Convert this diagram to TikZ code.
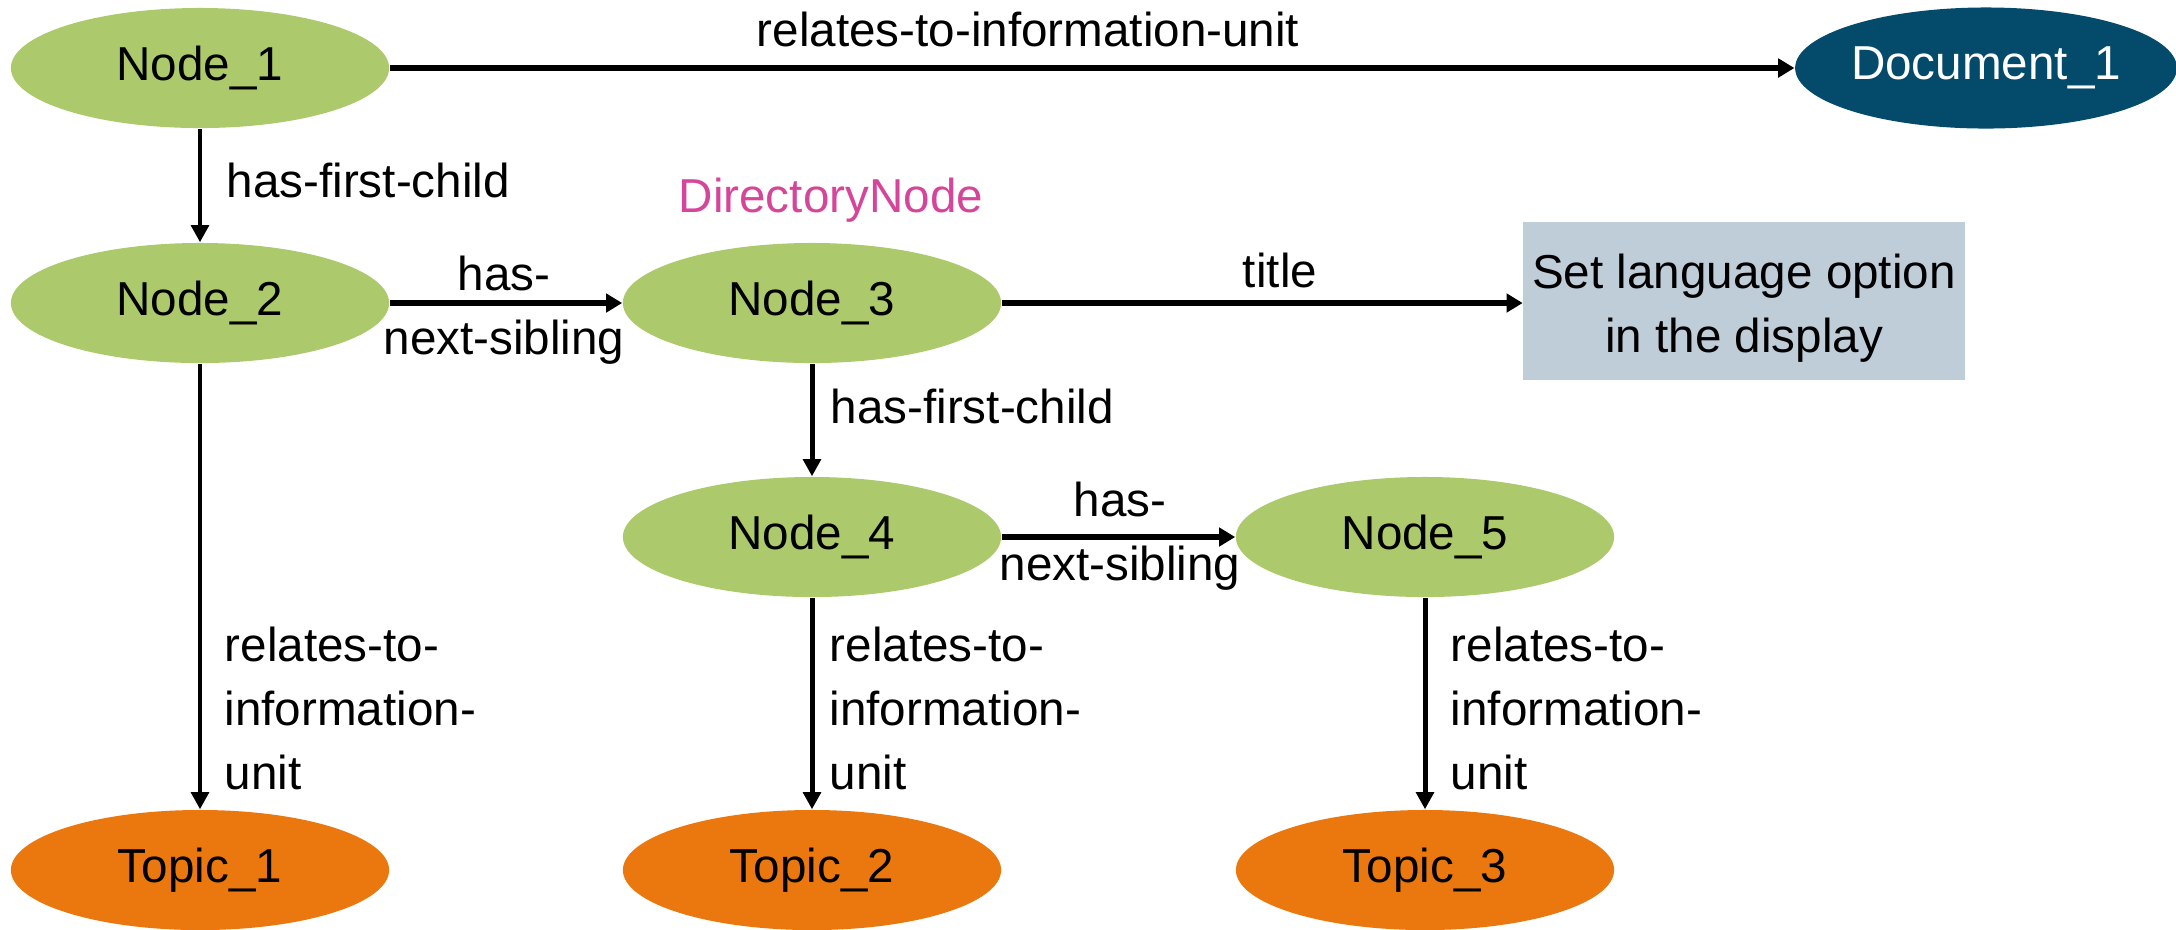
\documentclass[tikz,border=0pt]{standalone}
\usepackage{fontspec}
\setmainfont{Liberation Sans}
\usetikzlibrary{arrows.meta,shapes.geometric}
\definecolor{ngreen}{HTML}{ACC96C}
\definecolor{norange}{HTML}{EA780E}
\definecolor{nnavy}{HTML}{034A6B}
\definecolor{nbox}{HTML}{BFCDD9}
\definecolor{npink}{HTML}{D5469B}
\begin{document}
\begin{tikzpicture}[x=0.01cm, y=-0.01cm,
  every node/.style={font=\fontsize{13.54}{18.2}\selectfont, inner sep=0pt},
  gnode/.style={ellipse, fill=ngreen, minimum width=3.78cm, minimum height=1.2cm},
  tnode/.style={ellipse, fill=norange, minimum width=3.78cm, minimum height=1.2cm},
  dnode/.style={ellipse, fill=nnavy, text=white, minimum width=3.76cm, minimum height=1.21cm},
  infobox/.style={rectangle, fill=nbox, minimum width=4.41cm, minimum height=1.58cm, align=center},
  harrow/.style={-{Triangle[length=4.6pt,width=5.2pt]}, line width=1.7pt},
  varrow/.style={-{Triangle[length=4.9pt,width=5pt]}, line width=1.42pt},
]
\useasboundingbox (0,0) rectangle (2176,929);

\node[gnode] (n1) at (200,68) {Node\_1};
\node[dnode] (doc) at (1986,68) {Document\_1};
\node[gnode] (n2) at (200,303) {Node\_2};
\node[gnode] (n3) at (812,303) {Node\_3};
\node[infobox] (box) at (1744,301) {\rule{0pt}{0.48cm}Set language option\\in the display};
\node[gnode] (n4) at (812,537) {Node\_4};
\node[gnode] (n5) at (1425,537) {Node\_5};
\node[tnode] (t1) at (200,870) {Topic\_1};
\node[tnode] (t2) at (812,870) {Topic\_2};
\node[tnode] (t3) at (1425,870) {Topic\_3};

\draw[harrow] (n1) -- (doc);
\draw[varrow] (n1) -- (n2);
\draw[harrow] (n2) -- (n3);
\draw[harrow] (n3) -- (n3 -| box.west);
\draw[varrow] (n3) -- (n4);
\draw[harrow] (n4) -- (n5);
\draw[varrow] (n2) -- (t1);
\draw[varrow] (n4) -- (t2);
\draw[varrow] (n5) -- (t3);

\node[anchor=base] (lrel) at (1028,46) {relates-to-information-unit};
\node[anchor=base west] (lhfc1) at (226,197) {has-first-child};
\node[anchor=base west, text=npink] (ldir) at (678,212) {DirectoryNode};
\node[anchor=north, align=center] (lns1) at (504,255) {has-\\next-sibling};
\node[anchor=base] (ltitle) at (1280,287) {title};
\node[anchor=base west] (lhfc2) at (830,423) {has-first-child};
\node[anchor=north, align=center] (lns2) at (1120,481) {has-\\next-sibling};
\node[anchor=north west, align=left] (lrel1) at (224,626) {relates-to-\\information-\\unit};
\node[anchor=north west, align=left] (lrel2) at (829,626) {relates-to-\\information-\\unit};
\node[anchor=north west, align=left] (lrel3) at (1450,626) {relates-to-\\information-\\unit};
\end{tikzpicture}
\end{document}
